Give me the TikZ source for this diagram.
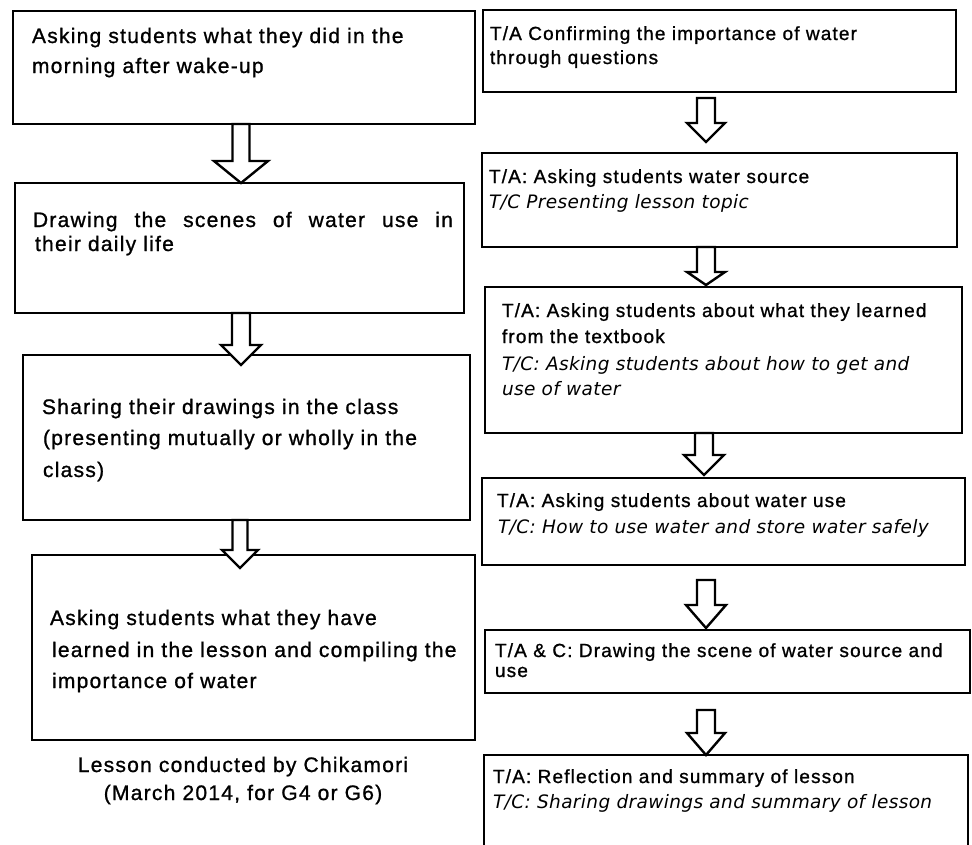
\documentclass[tikz,border=0pt]{standalone}
\usepackage{fontspec}
\setmainfont{Liberation Sans}
\newfontfamily\upfont{Liberation Sans}[LetterSpace=6, FakeBold=1]
\newfontfamily\djv{DejaVu Sans}[LetterSpace=2]
\usetikzlibrary{calc}
\tikzset{
  box/.style={draw, line width=2.6pt, inner sep=0pt, outer sep=0pt, anchor=north west},
  openbox/.style={inner sep=0pt, outer sep=0pt, anchor=north west},
  lt/.style={inner sep=0pt, outer sep=0pt, anchor=base west, font=\upfont\fontsize{21}{25}\selectfont},
  rt/.style={inner sep=0pt, outer sep=0pt, anchor=base west, font=\upfont\fontsize{19}{22}\selectfont},
  ri/.style={inner sep=0pt, outer sep=0pt, anchor=base west, font=\djv\itshape\fontsize{18.5}{22}\selectfont},
  captxt/.style={inner sep=0pt, outer sep=0pt, anchor=base, font=\upfont\fontsize{21}{25}\selectfont},
  blockarrow/.style={draw, fill=white, line width=2.4pt, line join=miter},
}
% #1 from node, #2 to node, #3 x, #4 start gap, #5 tip gap, #6 shaft half width, #7 head half width, #8 head length
\newcommand\hollowarrow[8]{%
  \draw[blockarrow] let \p1=(#1.south), \p2=(#2.north) in
    ({#3pt-#6pt},{\y1-#4pt}) -- ({#3pt-#6pt},{\y2+#5pt+#8pt}) -- ({#3pt-#7pt},{\y2+#5pt+#8pt})
    -- ({#3pt},{\y2+#5pt}) -- ({#3pt+#7pt},{\y2+#5pt+#8pt}) -- ({#3pt+#6pt},{\y2+#5pt+#8pt})
    -- ({#3pt+#6pt},{\y1-#4pt}) -- cycle;}
\begin{document}
\begin{tikzpicture}[x=1pt,y=-1pt]
\useasboundingbox[fill=white] (0,0) rectangle (972,844);
% left column boxes
\node[box, minimum width=462pt, minimum height=113pt] (L1) at (13,11) {};
\node[box, minimum width=449pt, minimum height=130pt] (L2) at (15,183) {};
\node[box, minimum width=447pt, minimum height=165pt] (L3) at (23,355) {};
\node[box, minimum width=443pt, minimum height=185pt] (L4) at (32,555) {};
% right column boxes
\node[box, minimum width=473pt, minimum height=82pt] (R1) at (483,10) {};
\node[box, minimum width=475pt, minimum height=94pt] (R2) at (482,153) {};
\node[box, minimum width=477pt, minimum height=146pt] (R3) at (485,287) {};
\node[box, minimum width=483pt, minimum height=87pt] (R4) at (482,478) {};
\node[box, minimum width=485pt, minimum height=63pt] (R5) at (485,630) {};
\node[openbox, minimum width=484pt, minimum height=95pt] (R6) at (484,755) {};
\draw[line width=2.6pt] (R6.south west) |- (R6.north east) -- (R6.south east);
% arrows
\hollowarrow{L1}{L2}{241}{0}{0}{8.5}{27}{22}
\hollowarrow{L2}{L3}{241}{0}{-10}{9}{20}{20}
\hollowarrow{L3}{L4}{240}{0}{-13}{7.5}{18}{18}
\hollowarrow{R1}{R2}{706}{6}{11}{9}{19}{19}
\hollowarrow{R2}{R3}{706}{0}{2}{9}{19}{13}
\hollowarrow{R3}{R4}{704}{0}{3}{9}{20}{20}
\hollowarrow{R4}{R5}{706}{15}{2}{9}{20}{23}
\hollowarrow{R5}{R6}{706}{17}{0}{9}{19}{22}
% left texts
\node[lt] (L1a) at (32,43) {Asking students what they did in the};
\node[lt] (L1b) at (32,73) {morning after wake-up};
\node[lt] (L2a) at (33,227) {\makebox[420pt][s]{Drawing the scenes of water use in}};
\node[lt] (L2b) at (35,251) {their daily life};
\node[lt] (L3a) at (42,414) {Sharing their drawings in the class};
\node[lt] (L3b) at (43,445) {(presenting mutually or wholly in the};
\node[lt] (L3c) at (43,477) {class)};
\node[lt] (L4a) at (50,625) {Asking students what they have};
\node[lt] (L4b) at (52,657) {learned in the lesson and compiling the};
\node[lt] (L4c) at (52,688) {importance of water};
\node[captxt] (C1) at (243,772) {Lesson conducted by Chikamori};
\node[captxt] (C2) at (243,800) {(March 2014, for G4 or G6)};
% right texts
\node[rt] (R1a) at (490,40) {T/A Confirming the importance of water};
\node[rt] (R1b) at (490,64) {through questions};
\node[rt] (R2a) at (489,183) {T/A: Asking students water source};
\node[ri] (R2b) at (489,208) {T/C Presenting lesson topic};
\node[rt] (R3a) at (502,317) {T/A: Asking students about what they learned};
\node[rt] (R3b) at (502,343) {from the textbook};
\node[ri] (R3c) at (502,370) {T/C: Asking students about how to get and};
\node[ri] (R3d) at (502,395) {use of water};
\node[rt] (R4a) at (497,507) {T/A: Asking students about water use};
\node[ri] (R4b) at (498,533) {T/C: How to use water and store water safely};
\node[rt] (R5a) at (495,657) {T/A \& C: Drawing the scene of water source and};
\node[rt] (R5b) at (495,677) {use};
\node[rt] (R6a) at (493,783) {T/A: Reflection and summary of lesson};
\node[ri] (R6b) at (493,808) {T/C: Sharing drawings and summary of lesson};
\end{tikzpicture}
\end{document}
